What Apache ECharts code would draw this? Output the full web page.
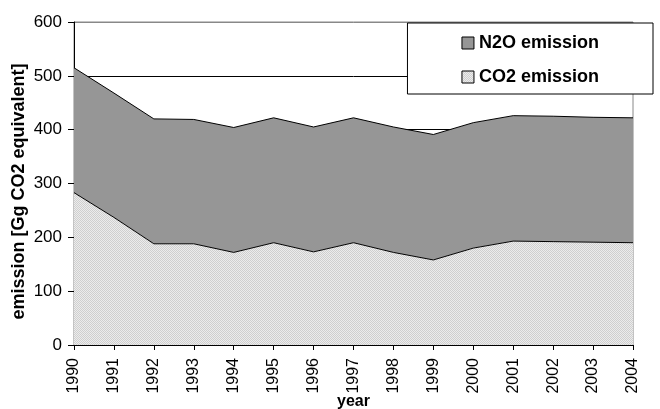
<!DOCTYPE html>
<html>
<head>
<meta charset="utf-8">
<script src="https://cdn.jsdelivr.net/npm/echarts@6/dist/echarts.min.js"></script>
<style>
  html, body { margin: 0; padding: 0; background: #fff; }
  #main { width: 660px; height: 409px; }
</style>
</head>
<body>
<div id="main"></div>
<script>
var years = ['1990','1991','1992','1993','1994','1995','1996','1997','1998','1999','2000','2001','2002','2003','2004'];
var co2 = [283, 237, 188, 188, 172, 190, 173, 190, 172, 158, 180, 193, 192, 191, 190];
var n2o = [232, 231, 232, 231, 232, 232, 232, 232, 233, 233, 233, 233, 233, 232, 232];
var yTicks = [0, 100, 200, 300, 400, 500, 600];

var font = 'Liberation Sans, Arial, sans-serif';

// small dotted fill like the excel pattern
var pat = document.createElement('canvas');
pat.width = 2; pat.height = 2;
var pc = pat.getContext('2d');
pc.fillStyle = '#ececec'; pc.fillRect(0, 0, 2, 2);
pc.fillStyle = '#cfcfcf'; pc.fillRect(0, 0, 1, 1); pc.fillRect(1, 1, 1, 1);
var co2Fill = { image: pat, repeat: 'repeat' };

var myChart = echarts.init(document.getElementById('main'));
myChart.setOption({
  animation: false,
  grid: {
    left: 74, right: 27, top: 22, bottom: 64,
    outerBoundsMode: 'none',
    containLabel: false,
    show: true, borderColor: '#888', borderWidth: 1
  },
  legend: {
    orient: 'vertical',
    right: 7, top: 23,
    data: ['N2O emission', 'CO2 emission'],
    itemWidth: 12, itemHeight: 12,
    itemGap: 16,
    padding: [11, 54, 8, 54],
    borderColor: '#000', borderWidth: 1,
    backgroundColor: '#fff',
    icon: 'rect',
    itemStyle: { borderColor: '#000', borderWidth: 1 },
    textStyle: { fontFamily: font, fontSize: 18, fontWeight: 'bold', color: '#000' }
  },
  xAxis: {
    type: 'category',
    data: years,
    boundaryGap: false,
    name: 'year',
    nameLocation: 'middle',
    nameGap: 49,
    nameMoveOverlap: false,
    nameTextStyle: { fontFamily: font, fontSize: 16, fontWeight: 'bold', color: '#000' },
    axisLine: { lineStyle: { color: '#000' } },
    axisTick: { alignWithLabel: true, length: 5, lineStyle: { color: '#000' } },
    axisLabel: { rotate: 90, fontFamily: font, fontSize: 16, color: '#000', margin: 13 },
    splitLine: { show: false }
  },
  yAxis: {
    type: 'value',
    min: yTicks[0], max: yTicks[yTicks.length - 1], interval: 100,
    name: 'emission [Gg CO2 equivalent]',
    nameLocation: 'middle',
    nameGap: 46,
    nameMoveOverlap: false,
    nameTextStyle: { fontFamily: font, fontSize: 18, fontWeight: 'bold', color: '#000', padding: [0, 16, 0, 0] },
    axisLine: { show: true, lineStyle: { color: '#000' } },
    axisTick: { show: true, length: 6, lineStyle: { color: '#000' } },
    axisLabel: { fontFamily: font, fontSize: 17, color: '#000', margin: 12 },
    splitLine: { show: true, lineStyle: { color: ['#000','#000','#000','#000','#000','#000','#888'], width: 1 } }
  },
  series: [
    {
      name: 'CO2 emission',
      type: 'line',
      stack: 'total',
      data: co2,
      symbol: 'none',
      itemStyle: { color: co2Fill },
      lineStyle: { color: '#000', width: 1 },
      areaStyle: { color: co2Fill, opacity: 1 },
      z: 3
    },
    {
      name: 'N2O emission',
      type: 'line',
      stack: 'total',
      data: n2o,
      symbol: 'none',
      itemStyle: { color: '#969696' },
      lineStyle: { color: '#000', width: 1 },
      areaStyle: { color: '#969696', opacity: 1 },
      z: 2
    }
  ]
});
</script>
</body>
</html>
